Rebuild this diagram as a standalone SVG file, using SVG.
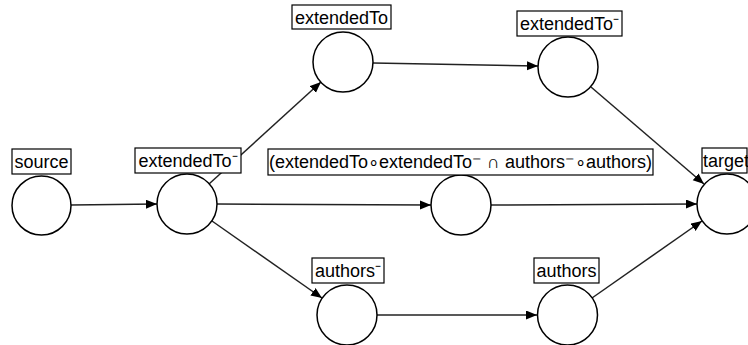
<svg xmlns="http://www.w3.org/2000/svg" width="748" height="345" viewBox="0 0 748 345">
<style>
.c{fill:#fff;stroke:#000;stroke-width:1.5}
.b{fill:#fff;stroke:#000;stroke-width:1.2}
.t{font-family:"Liberation Sans",Arial,sans-serif;font-size:18px;fill:#000;text-anchor:middle}
.e{stroke:#222;stroke-width:1.5;fill:none;marker-end:url(#ah)}
</style>
<defs>
<marker id="ah" markerUnits="userSpaceOnUse" markerWidth="12" markerHeight="10" refX="11" refY="4.5" orient="auto">
<path d="M0,0 L11,4.5 L0,9 z" fill="#000"/>
</marker>
</defs>
<rect width="748" height="345" fill="#fff"/>
<g id="connectors">
<line class="e" x1="71" y1="205" x2="157" y2="204"/>
<line class="e" x1="209" y1="184" x2="321" y2="82"/>
<line class="e" x1="217" y1="204" x2="431" y2="205"/>
<line class="e" x1="212" y1="221" x2="322" y2="298"/>
<line class="e" x1="373" y1="63" x2="538" y2="66"/>
<line class="e" x1="591" y1="87" x2="704" y2="184"/>
<line class="e" x1="491" y1="205" x2="697" y2="204"/>
<line class="e" x1="377" y1="315" x2="537" y2="315"/>
<line class="e" x1="592" y1="298" x2="702" y2="221"/>
</g>
<g id="source">
<circle class="c" cx="41.5" cy="205.5" r="29.5"/>
<rect class="b" x="12" y="149" width="59" height="25"/>
<text class="t" x="41.5" y="168">source</text>
</g>
<g id="ext1">
<circle class="c" cx="187" cy="204" r="30"/>
<rect class="b" x="135" y="148" width="106" height="25"/>
<text class="t" x="188" y="167">extendedTo⁻</text>
</g>
<g id="extTop">
<circle class="c" cx="343" cy="62" r="30"/>
<rect class="b" x="292" y="5" width="99" height="24"/>
<text class="t" x="341.5" y="24">extendedTo</text>
</g>
<g id="extInvTop">
<circle class="c" cx="568" cy="67" r="30"/>
<rect class="b" x="517" y="11" width="105" height="25"/>
<text class="t" x="569.5" y="30">extendedTo⁻</text>
</g>
<g id="middle">
<circle class="c" cx="461" cy="205" r="30"/>
<rect class="b" x="268" y="149" width="385" height="26"/>
<text class="t" x="460.5" y="168">(extendedTo∘extendedTo⁻ ∩ authors⁻∘authors)</text>
</g>
<g id="target">
<circle class="c" cx="727" cy="204" r="30"/>
<rect class="b" x="702" y="148" width="45" height="25"/>
<text class="t" x="726" y="167">target</text>
</g>
<g id="authorsInv">
<circle class="c" cx="347" cy="315" r="30"/>
<rect class="b" x="312" y="258" width="72" height="25"/>
<text class="t" x="348" y="277">authors⁻</text>
</g>
<g id="authors">
<circle class="c" cx="567.5" cy="315" r="30"/>
<rect class="b" x="534" y="258" width="65" height="25"/>
<text class="t" x="566.5" y="277">authors</text>
</g>
</svg>
